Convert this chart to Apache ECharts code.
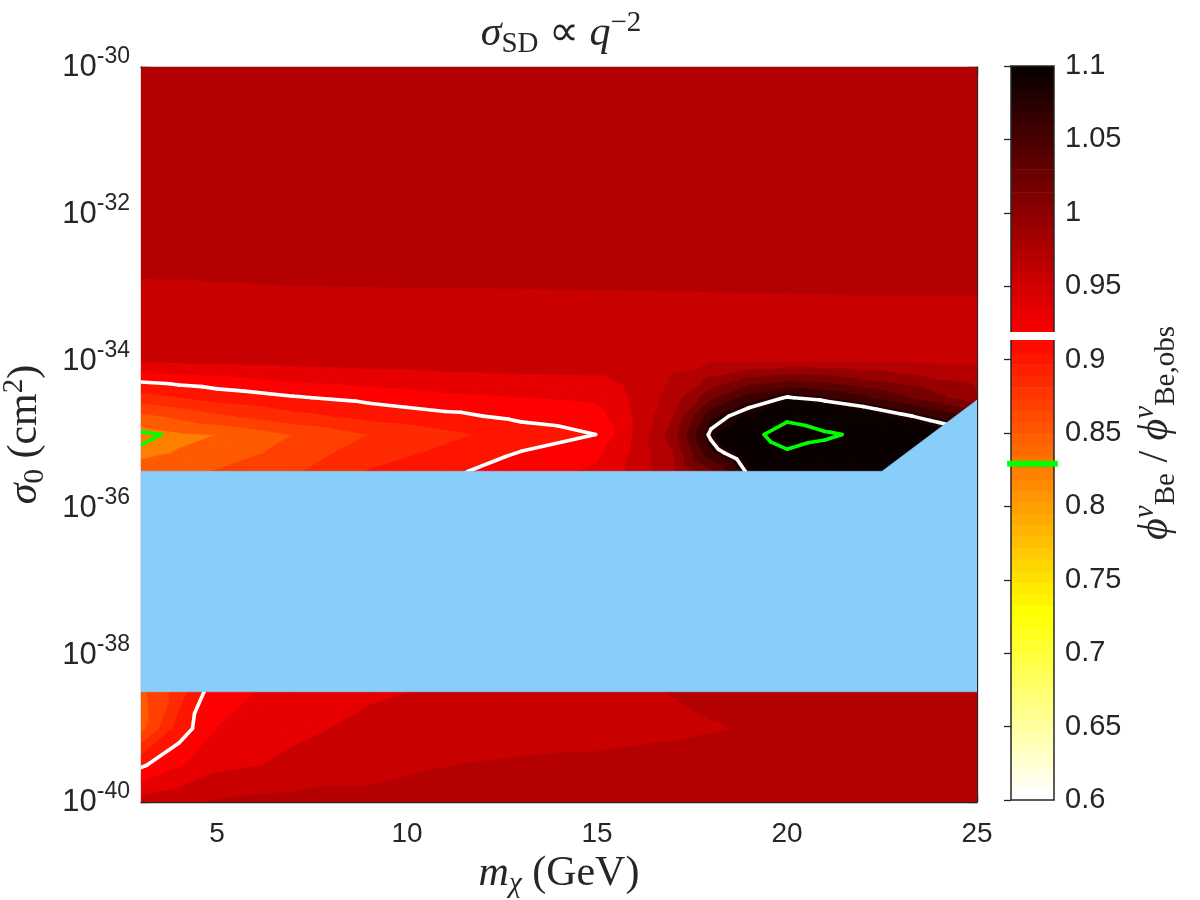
<!DOCTYPE html>
<html>
<head>
<meta charset="utf-8">
<script src="https://cdn.jsdelivr.net/npm/echarts@6.0.0/dist/echarts.min.js"></script>
<style>
  html,body{margin:0;padding:0;background:#fff}
  #chart{width:1200px;height:900px}
</style>
</head>
<body>
<div id="chart"></div>
<script>
// flux ratio phi_Be / phi_Be,obs
// columns follow massGeV, rows follow logSigma (log10 of sigma_0 in cm^2)
var massGeV = [3,4,5,7,9,11,13,15,16,17,18,19,20,21,22,23,24,25]
var logSigma = [-40,-39.5,-39,-38.5,-37,-35.5,-35.25,-35,-34.75,-34.5,-34.25,-34,-33.5,-33,-32.5,-32,-31,-30]
var fluxRatio = [
  [0.962,0.970,0.978,0.982,0.982,0.982,0.982,0.982,0.982,0.982,0.982,0.982,0.982,0.982,0.982,0.982,0.982,0.982],
  [0.913,0.933,0.950,0.960,0.968,0.9755,0.979,0.980,0.981,0.981,0.981,0.981,0.981,0.981,0.981,0.981,0.981,0.981],
  [0.848,0.905,0.936,0.952,0.960,0.963,0.966,0.969,0.971,0.973,0.975,0.977,0.980,0.980,0.980,0.980,0.980,0.980],
  [0.850,0.885,0.932,0.940,0.9535,0.958,0.964,0.970,0.973,0.9765,0.979,0.980,0.980,0.980,0.980,0.980,0.980,0.980],
  [0.870,0.900,0.920,0.930,0.940,0.950,0.955,0.960,0.965,0.980,1.000,1.020,1.030,1.020,1.010,1.000,0.990,0.985],
  [0.842,0.850,0.857,0.873,0.897,0.912,0.925,0.940,0.962,0.990,1.030,1.090,1.115,1.110,1.100,1.090,1.080,1.070],
  [0.832,0.837,0.843,0.864,0.886,0.900,0.917,0.930,0.960,0.995,1.070,1.110,1.160,1.150,1.140,1.120,1.100,1.090],
  [0.825,0.8325,0.836,0.856,0.876,0.8905,0.905,0.9162,0.958,1.005,1.090,1.142,1.215,1.180,1.160,1.130,1.110,1.090],
  [0.850,0.860,0.871,0.889,0.902,0.911,0.921,0.928,0.958,0.995,1.070,1.100,1.150,1.125,1.110,1.090,1.070,1.050],
  [0.886,0.8945,0.903,0.914,0.922,0.931,0.935,0.939,0.960,0.985,1.030,1.065,1.086,1.075,1.060,1.040,1.020,1.000],
  [0.921,0.9255,0.930,0.939,0.944,0.949,0.951,0.952,0.963,0.978,1.000,1.020,1.030,1.025,1.015,1.005,0.995,0.990],
  [0.957,0.959,0.961,0.962,0.964,0.965,0.966,0.968,0.968,0.971,0.974,0.974,0.974,0.974,0.973,0.972,0.971,0.971],
  [0.966,0.966,0.966,0.966,0.966,0.966,0.966,0.966,0.966,0.966,0.966,0.966,0.966,0.966,0.966,0.965,0.964,0.963],
  [0.974,0.9743,0.9748,0.9757,0.9758,0.976,0.9762,0.9765,0.9767,0.977,0.9772,0.9775,0.9777,0.978,0.9785,0.979,0.9793,0.9795],
  [0.982,0.982,0.982,0.982,0.982,0.982,0.982,0.982,0.982,0.982,0.982,0.982,0.982,0.982,0.982,0.982,0.982,0.982],
  [0.982,0.982,0.982,0.982,0.982,0.982,0.982,0.982,0.982,0.982,0.982,0.982,0.982,0.982,0.982,0.982,0.982,0.982],
  [0.983,0.983,0.983,0.983,0.983,0.983,0.983,0.983,0.983,0.983,0.983,0.983,0.983,0.983,0.983,0.983,0.983,0.983],
  [0.983,0.983,0.983,0.983,0.983,0.983,0.983,0.983,0.983,0.983,0.983,0.983,0.983,0.983,0.983,0.983,0.983,0.983]
]

// contourf levels and the fill colour of every band between them
var fillLevels = [0.836,0.856,0.876,0.896,0.916,0.936,0.956,0.976,0.996,1.016,1.036,1.056,1.076,1.096]
var fillColors = ['#ff8000','#ff5a00','#ff4000','#ff2a00','#ff1400','#ff0000','#e60000','#c80000',
                  '#b40000','#960000','#780000','#5a0000','#3c0000','#1e0000','#0a0000']
var whiteLevels = [0.916, 1.084]
var greenLevels = [0.829, 1.171]

// excluded region (light blue)
var excludedMass = [3, 22.5, 25, 25, 3]
var excludedLogSigma = [-35.5, -35.5, -34.53, -38.5, -38.5]

var massTicks = [5,10,15,20,25]
var cbarRange = [0.6, 1.1]
var cbarSteps = 64

var INK = '#262626'
var SANS = 'Liberation Sans'
var SERIF = 'Liberation Serif'

// flipped "hot" colormap, 64 entries, index 0 = value cbarRange[0]
function hotFlipped(n){
  var n1 = Math.floor(3/8*n), n2 = n1, out = []
  for(var k=1;k<=n;k++){
    var r = Math.min(1, k/n1)
    var g = k<=n1 ? 0 : Math.min(1,(k-n1)/n2)
    var b = k<=n1+n2 ? 0 : (k-n1-n2)/(n-n1-n2)
    out.push('rgb('+Math.round(r*255)+','+Math.round(g*255)+','+Math.round(b*255)+')')
  }
  return out.reverse()
}
var cmap = hotFlipped(cbarSteps)

// split every grid cell in two triangles
var tris = []
for(var j=0;j<logSigma.length-1;j++){
  for(var i=0;i<massGeV.length-1;i++){
    var a=[massGeV[i],logSigma[j],fluxRatio[j][i]]
    var b=[massGeV[i+1],logSigma[j],fluxRatio[j][i+1]]
    var c=[massGeV[i+1],logSigma[j+1],fluxRatio[j+1][i+1]]
    var d=[massGeV[i],logSigma[j+1],fluxRatio[j+1][i]]
    tris.push([a,b,c],[a,c,d])
  }
}

function clipPoly(poly,level,above){
  var out=[]
  for(var k=0;k<poly.length;k++){
    var p=poly[k], q=poly[(k+1)%poly.length]
    var pin = above ? p[2]>=level : p[2]<level
    var qin = above ? q[2]>=level : q[2]<level
    if(pin) out.push(p)
    if(pin!==qin){
      var t=(level-p[2])/(q[2]-p[2])
      out.push([p[0]+t*(q[0]-p[0]), p[1]+t*(q[1]-p[1]), level])
    }
  }
  return out
}

var fillPolys=[]
tris.forEach(function(tri){
  for(var bnd=0;bnd<fillColors.length;bnd++){
    var poly=tri
    if(bnd>0) poly=clipPoly(poly,fillLevels[bnd-1],true)
    if(bnd<fillLevels.length && poly.length>=3) poly=clipPoly(poly,fillLevels[bnd],false)
    if(poly.length>=3) fillPolys.push({pts:poly,color:fillColors[bnd]})
  }
})

function isoSegments(level){
  var segs=[]
  tris.forEach(function(tri){
    var pts=[]
    for(var k=0;k<3;k++){
      var p=tri[k], q=tri[(k+1)%3]
      if((p[2]-level)*(q[2]-level)<0){
        var t=(level-p[2])/(q[2]-p[2])
        pts.push([p[0]+t*(q[0]-p[0]), p[1]+t*(q[1]-p[1])])
      }
    }
    if(pts.length===2) segs.push(pts)
  })
  return segs
}
function levelSegments(levels){
  var all=[]
  levels.forEach(function(l){ all=all.concat(isoSegments(l)) })
  return all
}
var whiteSegs = levelSegments(whiteLevels)
var greenSegs = levelSegments(greenLevels)

function lineSeries(segs,color){
  return {
    type:'custom', xAxisIndex:0, yAxisIndex:0, clip:true, silent:true, z:3,
    data: segs.map(function(s){ return s[0] }),
    renderItem:function(params,api){
      var s=segs[params.dataIndex], p0=api.coord(s[0]), p1=api.coord(s[1])
      return {type:'line', shape:{x1:p0[0],y1:p0[1],x2:p1[0],y2:p1[1]},
        style:{stroke:color,lineWidth:3.6,lineCap:'round'}}
    }
  }
}

function tex(size,extra){
  var s={fontFamily:SERIF,fontSize:size,fontWeight:'normal',color:INK}
  for(var k in extra) s[k]=extra[k]
  return s
}
var richTex = {
  i:tex(42,{fontStyle:'italic',lineHeight:50}),
  r:tex(42,{lineHeight:50}),
  s:tex(29,{lineHeight:29,verticalAlign:'bottom'}),
  si:tex(29,{fontStyle:'italic',lineHeight:29,verticalAlign:'bottom'}),
  p:tex(29,{lineHeight:29,verticalAlign:'top'}),
  pi:tex(29,{fontStyle:'italic',lineHeight:29,verticalAlign:'top'})
}

var boxAxis = {
  axisLine:{show:true,onZero:false,lineStyle:{color:INK,width:1.3}},
  splitLine:{show:false}
}

var chart = echarts.init(document.getElementById('chart'))
var option = {
  animation:false,
  backgroundColor:'#ffffff',
  title:{
    text:'{i|σ}{s|SD}{r| ∝ }{i|q}{p|−2}',
    left:556, top:4, textAlign:'center',
    textStyle:{fontWeight:'normal',rich:richTex}
  },
  grid:[
    {left:141, right:223, top:67, bottom:98, outerBoundsMode:'none'},
    {left:1011, top:66, width:43, height:734, outerBoundsMode:'none'}
  ]
}

option.xAxis = [
  Object.assign({}, boxAxis, {
    type:'value', gridIndex:0, min:3, max:25, position:'bottom',
    axisTick:{show:true,inside:true,length:8,customValues:massTicks,lineStyle:{color:INK,width:1.3}},
    axisLabel:{customValues:massTicks,fontFamily:SANS,fontSize:28,color:INK,margin:18},
    name:'{i|m}{si|χ}{r| (GeV)}', nameLocation:'middle', nameGap:42,
    nameTextStyle:{rich:richTex}
  }),
  Object.assign({}, boxAxis, {
    type:'value', gridIndex:0, min:3, max:25, position:'top',
    axisTick:{show:true,inside:true,length:8,customValues:massTicks,lineStyle:{color:INK,width:1.3}},
    axisLabel:{show:false}
  }),
  {type:'value', gridIndex:1, min:0, max:1, show:false}
]

option.yAxis = [
  Object.assign({}, boxAxis, {
    type:'value', gridIndex:0, min:-40, max:-30, interval:2, position:'left',
    axisTick:{show:true,inside:true,length:8,lineStyle:{color:INK,width:1.3}},
    axisLabel:{
      margin:11,
      formatter:function(v){ return '{b|10}{e|'+v+'}' },
      rich:{
        b:{fontFamily:SANS,fontSize:31,lineHeight:44,color:INK},
        e:{fontFamily:SANS,fontSize:23,lineHeight:23,verticalAlign:'top',color:INK}
      }
    },
    name:'{i|σ}{s|0}{r| (cm}{p|2}{r|)}', nameLocation:'middle', nameGap:91, nameRotate:90,
    nameTextStyle:{rich:richTex}
  }),
  Object.assign({}, boxAxis, {
    type:'value', gridIndex:0, min:-40, max:-30, interval:2, position:'right',
    axisTick:{show:true,inside:true,length:8,lineStyle:{color:INK,width:1.3}},
    axisLabel:{show:false}
  }),
  {
    type:'value', gridIndex:1, min:cbarRange[0], max:cbarRange[1], interval:0.05, position:'right',
    axisLine:{show:false}, splitLine:{show:false},
    axisTick:{show:true,inside:true,length:7,lineStyle:{color:INK,width:1.3}},
    axisLabel:{fontFamily:SANS,fontSize:29,color:INK,margin:11,
      formatter:function(v){ return String(+v.toFixed(2)) }},
    name:'{i|ϕ}{pi|ν}{s|Be}{r| / }{i|ϕ}{pi|ν}{s|Be,obs}', nameLocation:'middle', nameGap:77, nameRotate:90,
    nameTextStyle:{rich:richTex}
  }
]

var cbarStep = (cbarRange[1]-cbarRange[0])/cbarSteps
var cbarMarks = [[whiteLevels[0],'#ffffff',8],[greenLevels[0],'#00ff00',6]]

option.series = [
  {
    type:'custom', xAxisIndex:0, yAxisIndex:0, clip:true, silent:true, z:2,
    data: fillPolys.map(function(p){ return [p.pts[0][0],p.pts[0][1]] }),
    renderItem:function(params,api){
      var p=fillPolys[params.dataIndex]
      return {type:'polygon', shape:{points:p.pts.map(function(q){ return api.coord([q[0],q[1]]) })},
        style:{fill:p.color,stroke:p.color,lineWidth:1.3,lineJoin:'round'}}
    }
  },
  lineSeries(whiteSegs,'#ffffff'),
  lineSeries(greenSegs,'#00ff00'),
  {
    type:'custom', xAxisIndex:0, yAxisIndex:0, clip:true, silent:true, z:4,
    data:[[excludedMass[0],excludedLogSigma[0]]],
    renderItem:function(params,api){
      var pts=excludedMass.map(function(m,k){ return api.coord([m,excludedLogSigma[k]]) })
      return {type:'polygon', shape:{points:pts}, style:{fill:'#87cefa',stroke:'#87cefa',lineWidth:0.5}}
    }
  },
  {
    type:'custom', xAxisIndex:2, yAxisIndex:2, silent:true, z:2,
    data: cmap.map(function(c,k){ return [0.5, cbarRange[0]+k*cbarStep] }),
    renderItem:function(params,api){
      var v0=cbarRange[0]+params.dataIndex*cbarStep
      var p0=api.coord([0,v0]), p1=api.coord([1,v0+cbarStep])
      return {type:'rect', shape:{x:p0[0],y:p1[1],width:p1[0]-p0[0],height:p0[1]-p1[1]+0.6},
        style:{fill:cmap[params.dataIndex]}}
    }
  },
  {
    type:'custom', xAxisIndex:2, yAxisIndex:2, silent:true, z:3,
    data:[[0,cbarRange[0]]],
    renderItem:function(params,api){
      var p0=api.coord([0,cbarRange[0]]), p1=api.coord([1,cbarRange[1]])
      return {type:'rect', shape:{x:p0[0],y:p1[1],width:p1[0]-p0[0],height:p0[1]-p1[1]},
        style:{fill:null,stroke:INK,lineWidth:1.5}}
    }
  },
  {
    type:'custom', xAxisIndex:2, yAxisIndex:2, silent:true, clip:false, z:4,
    data: cbarMarks.map(function(m){ return [0.5,m[0]] }),
    renderItem:function(params,api){
      var m=cbarMarks[params.dataIndex]
      var p0=api.coord([-0.09,m[0]]), p1=api.coord([1.09,m[0]])
      return {type:'line', shape:{x1:p0[0],y1:p0[1],x2:p1[0],y2:p1[1]},
        style:{stroke:m[1],lineWidth:m[2]}}
    }
  }
]

chart.setOption(option)
</script>
</body>
</html>
